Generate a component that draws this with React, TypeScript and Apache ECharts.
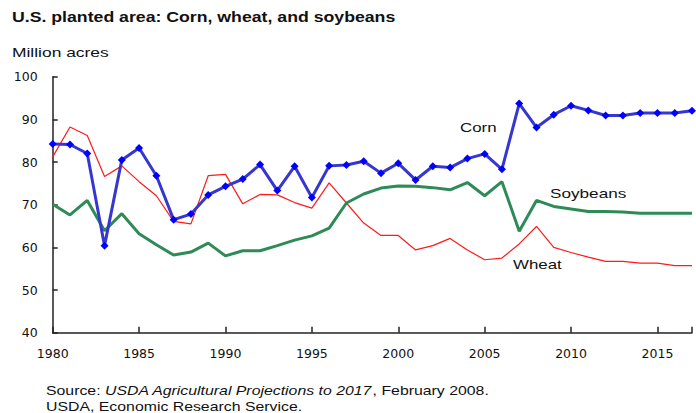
import React, { useEffect, useRef } from "react";
import * as echarts from "echarts";

const years: number[] = Array.from({ length: 38 }, (_, i) => 1980 + i);

const corn: number[] = [
  84.2, 84.1, 82.0, 60.4, 80.5, 83.3, 76.8, 66.5, 67.8, 72.3,
  74.3, 76.0, 79.4, 73.3, 79.0, 71.7, 79.1, 79.3, 80.2, 77.4,
  79.7, 75.8, 79.0, 78.7, 80.8, 81.9, 78.3, 93.7, 88.1, 91.1,
  93.2, 92.1, 90.9, 90.9, 91.5, 91.5, 91.5, 92.0,
];

const wheat: number[] = [
  81.2, 88.2, 86.2, 76.6, 79.1, 75.4, 72.1, 66.1, 65.5, 76.8,
  77.1, 70.2, 72.4, 72.3, 70.5, 69.2, 75.1, 70.4, 65.7, 62.8,
  62.8, 59.4, 60.4, 62.1, 59.4, 57.1, 57.5, 60.8, 64.9, 60.0,
  58.8, 57.7, 56.7, 56.7, 56.3, 56.3, 55.7, 55.7,
];

const soybeans: number[] = [
  70.1, 67.6, 71.0, 63.9, 67.9, 63.2, 60.6, 58.2, 58.9, 61.0,
  58.0, 59.2, 59.2, 60.4, 61.7, 62.7, 64.5, 70.4, 72.5, 73.9,
  74.4, 74.3, 74.0, 73.5, 75.2, 72.1, 75.4, 63.8, 71.0, 69.6,
  69.0, 68.4, 68.4, 68.3, 68.0, 68.0, 68.0, 68.0,
];

const seriesNames = ["Corn", "Wheat", "Soybeans"];
const titleText = "U.S. planted area: Corn, wheat, and soybeans";
const yAxisName = "Million acres";
const sourceLine1Parts = ["Source: ", "USDA Agricultural Projections to 2017", ", February 2008."];
const sourceLine2 = "USDA, Economic Research Service.";

const FONT = "'Liberation Sans', Arial, sans-serif";
const AXIS_FONT = "'DejaVu Sans', sans-serif";

export default function App() {
  const ref = useRef<HTMLDivElement>(null);

  useEffect(() => {
    if (!ref.current) return;
    const chart = echarts.init(ref.current, undefined, { renderer: "svg" });
    const toPairs = (arr: number[]) => arr.map((v, i) => [years[i], v]);

    const label = (text: string, x: number, y: number, size: number, sx: number, weight = "normal") => ({
      type: "text",
      x,
      y,
      scaleX: sx,
      style: {
        text,
        font: `${weight} ${size}px ${FONT}`,
        fill: "#111",
        verticalAlign: "middle",
        align: "left",
      },
    });

    chart.setOption({
      animation: false,
      backgroundColor: "#ffffff",
      textStyle: { fontFamily: FONT },
      grid: { left: 52.7, right: 4, top: 76.7, bottom: 80.3, containLabel: false },
      xAxis: {
        type: "value",
        min: 1980,
        max: 2017,
        interval: 5,
        axisLine: { show: true, lineStyle: { color: "#222", width: 1.5 } },
        axisTick: { show: true, inside: true, length: 6, lineStyle: { color: "#222", width: 1.5 } },
        axisLabel: {
          color: "#111",
          fontSize: 12.5,
          fontFamily: AXIS_FONT,
          margin: 14,
          formatter: (v: number) => (v <= 2015 ? String(v) : ""),
        },
        splitLine: { show: false },
      },
      yAxis: {
        type: "value",
        min: 40,
        max: 100,
        interval: 10,
        axisLine: { show: true, lineStyle: { color: "#222", width: 1.5 } },
        axisTick: { show: true, inside: true, length: 5, lineStyle: { color: "#222", width: 1.5 } },
        axisLabel: { color: "#111", fontSize: 12.5, fontFamily: AXIS_FONT, margin: 15 },
        splitLine: { show: false },
      },
      graphic: [
        label(titleText, 12, 17, 15, 1.18, "bold"),
        label(yAxisName, 12, 52.5, 13, 1.34),
        label(seriesNames[0], 460, 127.5, 13, 1.3),
        label(seriesNames[2], 550, 193, 13, 1.32),
        label(seriesNames[1], 513, 264, 13, 1.3),
        {
          type: "text",
          x: 46,
          y: 391,
          scaleX: 1.32,
          style: {
            text: `{n|${sourceLine1Parts[0]}}{i|${sourceLine1Parts[1]}}{n|${sourceLine1Parts[2]}}`,
            verticalAlign: "middle",
            align: "left",
            rich: {
              n: { font: `12px ${FONT}`, fill: "#111" },
              i: { font: `italic 12px ${FONT}`, fill: "#111" },
            },
          },
        },
        label(sourceLine2, 46, 406.5, 12, 1.32),
      ],
      series: [
        {
          name: seriesNames[1],
          type: "line",
          data: toPairs(wheat),
          showSymbol: false,
          symbol: "none",
          lineStyle: { color: "#ff1a1a", width: 1.2 },
          z: 2,
        },
        {
          name: seriesNames[2],
          type: "line",
          data: toPairs(soybeans),
          showSymbol: false,
          symbol: "none",
          lineStyle: { color: "#2e8b57", width: 3 },
          z: 3,
        },
        {
          name: seriesNames[0],
          type: "line",
          data: toPairs(corn),
          symbol: "diamond",
          symbolSize: 8,
          itemStyle: { color: "#0000ff" },
          lineStyle: { color: "#3636d0", width: 3 },
          z: 4,
        },
      ],
    });

    return () => chart.dispose();
  }, []);

  return <div ref={ref} style={{ width: 696, height: 413, position: "absolute", left: 0, top: 0 }} />;
}
